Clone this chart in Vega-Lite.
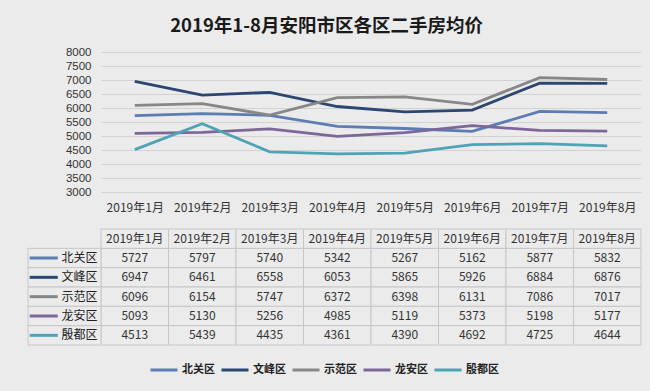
{
  "$schema": "https://vega.github.io/schema/vega-lite/v6.json",
  "background": "#ebebeb",
  "padding": {"top": 16, "left": 23, "right": 13, "bottom": 15},
  "title": {"text": "2019年1-8月安阳市区各区二手房均价", "fontSize": 18.5, "font": "Noto Sans CJK SC", "fontWeight": "bold", "color": "#1a1a1a", "anchor": "middle", "offset": 11, "dx": -6},
  "config": {"view": {"stroke": null}, "font": "Noto Sans CJK SC"},
  "spacing": 15,
  "resolve": {"scale": {"x": "independent", "y": "independent"}},
  "datasets": {
    "prices": [
      {"district": "北关区", "month": "2019年1月", "price": 5727},
      {"district": "北关区", "month": "2019年2月", "price": 5797},
      {"district": "北关区", "month": "2019年3月", "price": 5740},
      {"district": "北关区", "month": "2019年4月", "price": 5342},
      {"district": "北关区", "month": "2019年5月", "price": 5267},
      {"district": "北关区", "month": "2019年6月", "price": 5162},
      {"district": "北关区", "month": "2019年7月", "price": 5877},
      {"district": "北关区", "month": "2019年8月", "price": 5832},
      {"district": "文峰区", "month": "2019年1月", "price": 6947},
      {"district": "文峰区", "month": "2019年2月", "price": 6461},
      {"district": "文峰区", "month": "2019年3月", "price": 6558},
      {"district": "文峰区", "month": "2019年4月", "price": 6053},
      {"district": "文峰区", "month": "2019年5月", "price": 5865},
      {"district": "文峰区", "month": "2019年6月", "price": 5926},
      {"district": "文峰区", "month": "2019年7月", "price": 6884},
      {"district": "文峰区", "month": "2019年8月", "price": 6876},
      {"district": "示范区", "month": "2019年1月", "price": 6096},
      {"district": "示范区", "month": "2019年2月", "price": 6154},
      {"district": "示范区", "month": "2019年3月", "price": 5747},
      {"district": "示范区", "month": "2019年4月", "price": 6372},
      {"district": "示范区", "month": "2019年5月", "price": 6398},
      {"district": "示范区", "month": "2019年6月", "price": 6131},
      {"district": "示范区", "month": "2019年7月", "price": 7086},
      {"district": "示范区", "month": "2019年8月", "price": 7017},
      {"district": "龙安区", "month": "2019年1月", "price": 5093},
      {"district": "龙安区", "month": "2019年2月", "price": 5130},
      {"district": "龙安区", "month": "2019年3月", "price": 5256},
      {"district": "龙安区", "month": "2019年4月", "price": 4985},
      {"district": "龙安区", "month": "2019年5月", "price": 5119},
      {"district": "龙安区", "month": "2019年6月", "price": 5373},
      {"district": "龙安区", "month": "2019年7月", "price": 5198},
      {"district": "龙安区", "month": "2019年8月", "price": 5177},
      {"district": "殷都区", "month": "2019年1月", "price": 4513},
      {"district": "殷都区", "month": "2019年2月", "price": 5439},
      {"district": "殷都区", "month": "2019年3月", "price": 4435},
      {"district": "殷都区", "month": "2019年4月", "price": 4361},
      {"district": "殷都区", "month": "2019年5月", "price": 4390},
      {"district": "殷都区", "month": "2019年6月", "price": 4692},
      {"district": "殷都区", "month": "2019年7月", "price": 4725},
      {"district": "殷都区", "month": "2019年8月", "price": 4644}
    ]
  },
  "vconcat": [
    {
      "width": 540,
      "height": 140,
      "data": {"name": "prices"},
      "mark": {"type": "line", "strokeWidth": 2.8},
      "encoding": {
        "x": {
          "field": "month", "type": "ordinal",
          "scale": {"domain": ["2019年1月", "2019年2月", "2019年3月", "2019年4月", "2019年5月", "2019年6月", "2019年7月", "2019年8月"]},
          "axis": {"title": null, "labelAngle": 0, "domain": false, "ticks": false, "labelPadding": 10, "labelFontSize": 12, "labelColor": "#333333", "labelFont": "Noto Sans CJK SC"}
        },
        "y": {
          "field": "price", "type": "quantitative",
          "scale": {"domain": [3000, 8000], "nice": false, "zero": false},
          "axis": {"title": null, "format": "d", "values": [3000, 3500, 4000, 4500, 5000, 5500, 6000, 6500, 7000, 7500, 8000], "domain": false, "ticks": false, "labelPadding": 10, "labelFontSize": 11.5, "labelColor": "#333333", "gridColor": "#d2d2d2", "gridWidth": 1, "labelFont": "Liberation Sans"}
        },
        "color": {
          "field": "district", "type": "nominal",
          "scale": {"domain": ["北关区", "文峰区", "示范区", "龙安区", "殷都区"], "range": ["#5b7db3", "#2b4670", "#878787", "#7d6699", "#4ea3b5"]},
          "legend": {"title": null, "orient": "none", "direction": "horizontal", "legendX": 48, "legendY": 303, "symbolType": "stroke", "symbolSize": 729, "symbolStrokeWidth": 3, "labelFontSize": 11, "labelFontWeight": "bold", "labelColor": "#222222", "labelOffset": 3, "columnPadding": 0, "labelFont": "Noto Sans CJK SC"}
        }
      }
    },
    {
      "width": 540,
      "height": 116,
      "data": {"name": "prices"},
      "encoding": {
        "x": {"field": "month", "type": "nominal", "axis": null, "scale": {"type": "band", "domain": ["2019年1月", "2019年2月", "2019年3月", "2019年4月", "2019年5月", "2019年6月", "2019年7月", "2019年8月"], "paddingInner": 0, "paddingOuter": 0}},
        "y": {"field": "district", "type": "nominal", "scale": {"type": "band", "domain": ["月份", "北关区", "文峰区", "示范区", "龙安区", "殷都区"], "paddingInner": 0, "paddingOuter": 0},
          "axis": {"title": null, "domain": false, "ticks": false, "labelPadding": 4, "labelFontSize": 12, "labelColor": "#222222", "labelFont": "Noto Sans CJK SC", "labelExpr": "datum.value === '月份' ? '' : datum.value"}}
      },
      "layer": [
        {
          "mark": {"type": "rect", "fill": "#ebebeb", "stroke": "#c6c6c6", "strokeWidth": 1}
        },
        {
          "transform": [{"filter": "datum.district === '北关区'"}],
          "mark": {"type": "rect", "fill": "#ebebeb", "stroke": "#c6c6c6", "strokeWidth": 1},
          "encoding": {"y": {"datum": "月份", "type": "nominal"}}
        },
        {
          "transform": [{"filter": "datum.month === '2019年1月'"}],
          "mark": {"type": "rect", "fill": "#ebebeb", "stroke": "#c6c6c6", "strokeWidth": 1, "width": 73, "xOffset": -70.25},
          "encoding": {"x": {"datum": "2019年1月", "type": "nominal"}}
        },
        {
          "mark": {"type": "text", "fontSize": 12, "color": "#333333", "font": "Noto Sans CJK SC"},
          "encoding": {"text": {"field": "price", "type": "quantitative", "format": "d"}}
        },
        {
          "transform": [{"filter": "datum.district === '北关区'"}],
          "mark": {"type": "text", "fontSize": 12, "color": "#333333", "font": "Noto Sans CJK SC"},
          "encoding": {"y": {"datum": "月份", "type": "nominal"}, "text": {"field": "month", "type": "nominal"}}
        },
        {
          "transform": [{"filter": "datum.month === '2019年1月'"}],
          "mark": {"type": "point", "shape": "stroke", "filled": false, "size": 784, "strokeWidth": 3, "opacity": 1, "xOffset": -91},
          "encoding": {
            "x": {"datum": "2019年1月", "type": "nominal"},
            "color": {"field": "district", "type": "nominal"}
          }
        }
      ]
    }
  ]
}
